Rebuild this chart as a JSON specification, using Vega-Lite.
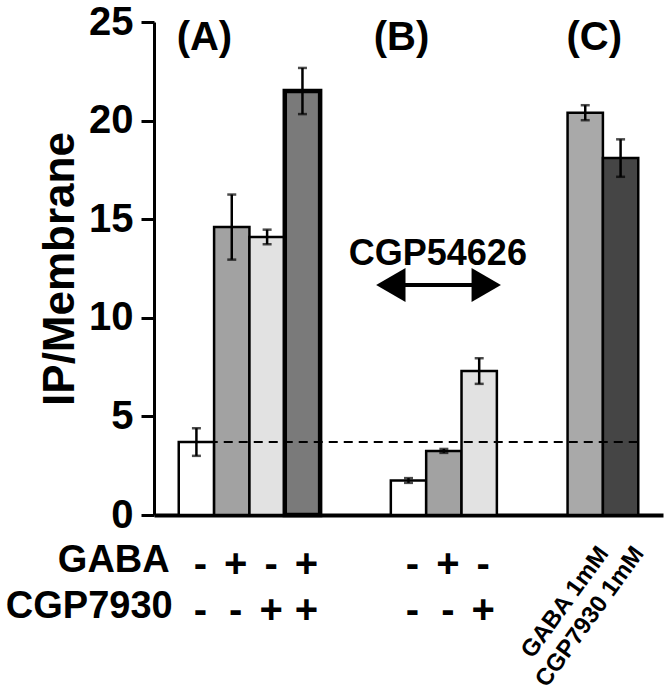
{
  "$schema": "https://vega.github.io/schema/vega-lite/v6.json",
  "width": 509,
  "height": 493,
  "autosize": {"type": "none"},
  "padding": {"left": 154, "top": 22, "right": 9, "bottom": 179},
  "background": "white",
  "config": {
    "font": "Liberation Sans",
    "view": {"stroke": null},
    "axisX": {"labels": false, "ticks": false, "domainWidth": 4, "domainColor": "black", "grid": false},
    "axisY": {
      "grid": false, "titleFontSize": 44, "titleFontWeight": "bold", "titleColor": "black", "titlePadding": 6,
      "labelFontSize": 40, "labelFontWeight": "bold", "labelColor": "black", "labelPadding": 8,
      "tickSize": 13, "tickWidth": 3, "tickColor": "black", "domainWidth": 3, "domainColor": "black"
    }
  },
  "datasets": {
    "bars": [
      {"cat": "A1", "value": 3.7, "err": 0.7, "pattern": "open"},
      {"cat": "A2", "value": 14.6, "err": 1.65, "pattern": "fine hatch"},
      {"cat": "A3", "value": 14.1, "err": 0.37, "pattern": "dashes"},
      {"cat": "A4", "value": 21.5, "err": 1.17, "pattern": "bold hatch"},
      {"cat": "B1", "value": 1.75, "err": 0.12, "pattern": "open"},
      {"cat": "B2", "value": 3.25, "err": 0.1, "pattern": "fine hatch"},
      {"cat": "B3", "value": 7.3, "err": 0.65, "pattern": "dashes"},
      {"cat": "C1", "value": 20.4, "err": 0.38, "pattern": "light"},
      {"cat": "C2", "value": 18.1, "err": 0.95, "pattern": "dark"}
    ],
    "control": [{"level": 3.7}],
    "signs": [
      {"cat": "A1", "gaba": "-", "cgp": "-"},
      {"cat": "A2", "gaba": "+", "cgp": "-"},
      {"cat": "A3", "gaba": "-", "cgp": "+"},
      {"cat": "A4", "gaba": "+", "cgp": "+"},
      {"cat": "B1", "gaba": "-", "cgp": "-"},
      {"cat": "B2", "gaba": "+", "cgp": "-"},
      {"cat": "B3", "gaba": "-", "cgp": "+"}
    ],
    "clabels": [
      {"cat": "C1", "label": "GABA 1mM"},
      {"cat": "C2", "label": "CGP7930 1mM"}
    ],
    "antagonist": [{"cat": "B2", "label": "CGP54626", "from": "B1", "to": "B3"}]
  },
  "layer": [
    {
      "data": {"name": "bars"},
      "mark": {"type": "bar", "stroke": "black", "opacity": 1},
      "encoding": {
        "x": {
          "field": "cat", "type": "nominal", "title": null,
          "scale": {"domain": ["A1", "A2", "A3", "A4", "s1", "s2", "B1", "B2", "B3", "s3", "s4", "C1", "C2"], "paddingInner": 0, "paddingOuter": 0.7},
          "axis": {"title": null, "labels": false, "ticks": false, "domainWidth": 4, "domainColor": "black"}
        },
        "y": {
          "field": "value", "type": "quantitative", "title": "IP/Membrane",
          "scale": {"domain": [0, 25], "nice": false},
          "axis": {"values": [0, 5, 10, 15, 20, 25], "title": "IP/Membrane"}
        },
        "fill": {
          "field": "pattern", "type": "nominal",
          "scale": {"domain": ["open", "fine hatch", "dashes", "bold hatch", "light", "dark"], "range": ["#ffffff", "#a2a2a2", "#e2e2e2", "#7a7a7a", "#a9a9a9", "#454545"]},
          "legend": null
        },
        "strokeWidth": {"condition": {"test": "datum.cat === 'A4'", "value": 4.5}, "value": 2.5}
      }
    },
    {
      "data": {"name": "bars"},
      "mark": {"type": "errorbar", "ticks": {"size": 9, "thickness": 2.5, "color": "black"}, "rule": {"strokeWidth": 2.5, "color": "black"}},
      "encoding": {
        "x": {"field": "cat", "type": "nominal", "title": null},
        "y": {"field": "value", "type": "quantitative", "title": "IP/Membrane", "scale": {"domain": [0, 25], "nice": false}},
        "yError": {"field": "err"}
      }
    },
    {
      "data": {"name": "control"},
      "mark": {"type": "rule", "strokeDash": [9, 6], "strokeWidth": 2, "color": "black"},
      "encoding": {
        "y": {"field": "level", "type": "quantitative", "title": "IP/Membrane", "scale": {"domain": [0, 25], "nice": false}},
        "x": {"datum": "A1", "bandPosition": 0, "title": null},
        "x2": {"datum": "C2", "bandPosition": 1}
      }
    },
    {
      "data": {"values": [{"cat": "A1", "label": "(A)"}]},
      "mark": {"type": "text", "fontSize": 40, "fontWeight": "bold", "baseline": "alphabetic", "align": "center", "color": "black", "dx": 8},
      "encoding": {
        "x": {"field": "cat", "type": "nominal", "title": null},
        "y": {"datum": 23.6, "title": "IP/Membrane", "scale": {"domain": [0, 25], "nice": false}},
        "text": {"field": "label"}
      }
    },
    {
      "data": {"values": [{"cat": "B1", "label": "(B)"}]},
      "mark": {"type": "text", "fontSize": 40, "fontWeight": "bold", "baseline": "alphabetic", "align": "center", "color": "black", "dx": -7},
      "encoding": {
        "x": {"field": "cat", "type": "nominal", "title": null},
        "y": {"datum": 23.6, "title": "IP/Membrane", "scale": {"domain": [0, 25], "nice": false}},
        "text": {"field": "label"}
      }
    },
    {
      "data": {"values": [{"cat": "C1", "label": "(C)"}]},
      "mark": {"type": "text", "fontSize": 40, "fontWeight": "bold", "baseline": "alphabetic", "align": "center", "color": "black", "dx": 9},
      "encoding": {
        "x": {"field": "cat", "type": "nominal", "title": null},
        "y": {"datum": 23.6, "title": "IP/Membrane", "scale": {"domain": [0, 25], "nice": false}},
        "text": {"field": "label"}
      }
    },
    {
      "data": {"name": "antagonist"},
      "mark": {"type": "text", "fontSize": 36, "fontWeight": "bold", "baseline": "alphabetic", "align": "center", "color": "black", "dx": -6},
      "encoding": {
        "x": {"field": "cat", "type": "nominal", "title": null},
        "y": {"datum": 12.68, "title": "IP/Membrane", "scale": {"domain": [0, 25], "nice": false}},
        "text": {"field": "label"}
      }
    },
    {
      "data": {"name": "antagonist"},
      "mark": {"type": "rule", "strokeWidth": 4, "color": "black"},
      "encoding": {
        "x": {"field": "from", "type": "nominal", "bandPosition": 0.3, "title": null},
        "x2": {"field": "to", "bandPosition": 0.5},
        "y": {"datum": 11.66, "title": "IP/Membrane", "scale": {"domain": [0, 25], "nice": false}}
      }
    },
    {
      "data": {"name": "antagonist"},
      "mark": {"type": "point", "shape": "triangle-left", "size": 1150, "filled": true, "color": "black", "opacity": 1},
      "encoding": {
        "x": {"field": "from", "type": "nominal", "bandPosition": 0, "title": null},
        "y": {"datum": 11.66, "title": "IP/Membrane", "scale": {"domain": [0, 25], "nice": false}}
      }
    },
    {
      "data": {"name": "antagonist"},
      "mark": {"type": "point", "shape": "triangle-right", "size": 1150, "filled": true, "color": "black", "opacity": 1},
      "encoding": {
        "x": {"field": "to", "type": "nominal", "bandPosition": 0.7, "title": null},
        "y": {"datum": 11.66, "title": "IP/Membrane", "scale": {"domain": [0, 25], "nice": false}}
      }
    },
    {
      "data": {"name": "signs"},
      "mark": {"type": "text", "fontSize": 40, "fontWeight": "bold", "baseline": "alphabetic", "align": "center", "color": "black", "dx": 4},
      "encoding": {
        "x": {"field": "cat", "type": "nominal", "title": null},
        "y": {"datum": -3.14, "title": "IP/Membrane", "scale": {"domain": [0, 25], "nice": false}},
        "text": {"field": "gaba"}
      }
    },
    {
      "data": {"name": "signs"},
      "mark": {"type": "text", "fontSize": 40, "fontWeight": "bold", "baseline": "alphabetic", "align": "center", "color": "black", "dx": 4},
      "encoding": {
        "x": {"field": "cat", "type": "nominal", "title": null},
        "y": {"datum": -5.5, "title": "IP/Membrane", "scale": {"domain": [0, 25], "nice": false}},
        "text": {"field": "cgp"}
      }
    },
    {
      "data": {"values": [{"label": "GABA"}]},
      "mark": {"type": "text", "fontSize": 38, "fontWeight": "bold", "baseline": "alphabetic", "align": "right", "color": "black", "dx": -9},
      "encoding": {
        "x": {"datum": "A1", "bandPosition": 0, "title": null},
        "y": {"datum": -2.89, "title": "IP/Membrane", "scale": {"domain": [0, 25], "nice": false}},
        "text": {"field": "label"}
      }
    },
    {
      "data": {"values": [{"label": "CGP7930"}]},
      "mark": {"type": "text", "fontSize": 38, "fontWeight": "bold", "baseline": "alphabetic", "align": "right", "color": "black", "dx": -6},
      "encoding": {
        "x": {"datum": "A1", "bandPosition": 0, "title": null},
        "y": {"datum": -5.22, "title": "IP/Membrane", "scale": {"domain": [0, 25], "nice": false}},
        "text": {"field": "label"}
      }
    },
    {
      "data": {"name": "clabels"},
      "mark": {"type": "text", "fontSize": 24, "fontWeight": "bold", "baseline": "alphabetic", "align": "right", "angle": -54, "color": "black", "dx": 11, "dy": 22},
      "encoding": {
        "x": {"field": "cat", "type": "nominal", "title": null},
        "y": {"datum": -1.75, "title": "IP/Membrane", "scale": {"domain": [0, 25], "nice": false}},
        "text": {"field": "label"}
      }
    }
  ]
}
